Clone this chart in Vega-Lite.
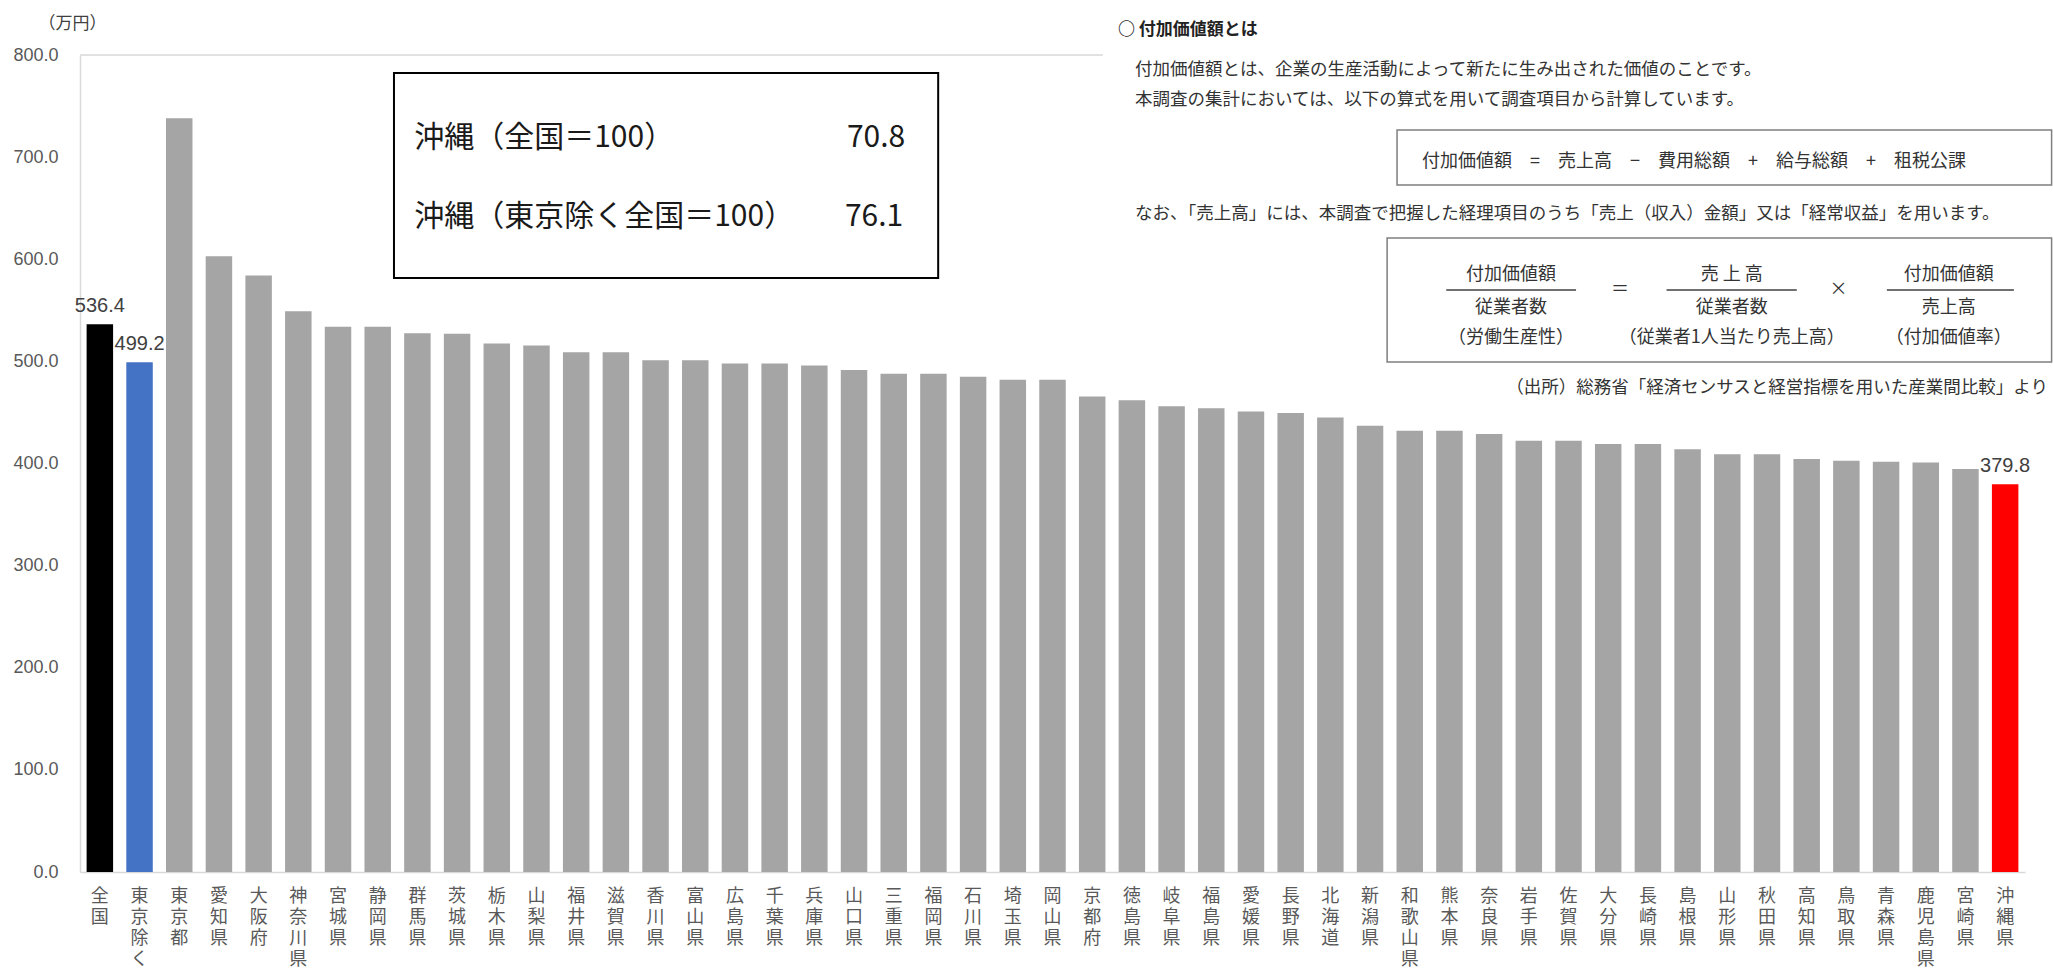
{
  "$schema": "https://vega.github.io/schema/vega-lite/v6.json",
  "width": 1945,
  "height": 817,
  "autosize": "none",
  "padding": {"left": 80, "top": 55, "right": 28, "bottom": 98},
  "background": "white",
  "config": {"view": {"stroke": null}, "font": "Noto Sans CJK JP"},
  "datasets": {
    "bars": [
      {"pref": "全国", "value": 536.4},
      {"pref": "東京除く", "value": 499.2},
      {"pref": "東京都", "value": 738},
      {"pref": "愛知県", "value": 603},
      {"pref": "大阪府", "value": 584},
      {"pref": "神奈川県", "value": 549},
      {"pref": "宮城県", "value": 534},
      {"pref": "静岡県", "value": 534},
      {"pref": "群馬県", "value": 527.5},
      {"pref": "茨城県", "value": 527},
      {"pref": "栃木県", "value": 517.5},
      {"pref": "山梨県", "value": 515.5},
      {"pref": "福井県", "value": 509},
      {"pref": "滋賀県", "value": 509},
      {"pref": "香川県", "value": 501},
      {"pref": "富山県", "value": 501},
      {"pref": "広島県", "value": 498},
      {"pref": "千葉県", "value": 498},
      {"pref": "兵庫県", "value": 496},
      {"pref": "山口県", "value": 491.5},
      {"pref": "三重県", "value": 488},
      {"pref": "福岡県", "value": 488},
      {"pref": "石川県", "value": 485},
      {"pref": "埼玉県", "value": 482},
      {"pref": "岡山県", "value": 482},
      {"pref": "京都府", "value": 465.5},
      {"pref": "徳島県", "value": 462},
      {"pref": "岐阜県", "value": 456},
      {"pref": "福島県", "value": 454},
      {"pref": "愛媛県", "value": 451},
      {"pref": "長野県", "value": 449.5},
      {"pref": "北海道", "value": 445},
      {"pref": "新潟県", "value": 437},
      {"pref": "和歌山県", "value": 432},
      {"pref": "熊本県", "value": 432},
      {"pref": "奈良県", "value": 428.8},
      {"pref": "岩手県", "value": 422.3},
      {"pref": "佐賀県", "value": 422.3},
      {"pref": "大分県", "value": 419},
      {"pref": "長崎県", "value": 419},
      {"pref": "島根県", "value": 414},
      {"pref": "山形県", "value": 409},
      {"pref": "秋田県", "value": 409},
      {"pref": "高知県", "value": 404.3},
      {"pref": "鳥取県", "value": 402.7},
      {"pref": "青森県", "value": 401.7},
      {"pref": "鹿児島県", "value": 401},
      {"pref": "宮崎県", "value": 394.5},
      {"pref": "沖縄県", "value": 379.8}
    ],
    "mainBox": [{"u": 7.91, "u2": 21.62, "v": 782.4, "v2": 581.6}],
    "noteBoxes": [
      {"u": 33.18, "u2": 49.67, "v": 726.6, "v2": 672.7},
      {"u": 32.93, "u2": 49.67, "v": 620.8, "v2": 499.4}
    ],
    "grid": [{"u": 0, "u2": 25.77, "v": 800}],
    "fracLines": [
      {"u": 34.42, "u2": 37.69, "v": 569.9},
      {"u": 39.97, "u2": 43.25, "v": 569.9},
      {"u": 45.52, "u2": 48.72, "v": 569.9}
    ],
    "boxLeft": [
      {"u": 8.42, "v": 718.7, "t": "沖縄（全国＝100）"},
      {"u": 8.42, "v": 641.4, "t": "沖縄（東京除く全国＝100）"}
    ],
    "boxRight": [
      {"u": 20.79, "v": 718.7, "t": "70.8"},
      {"u": 20.74, "v": 641.4, "t": "76.1"}
    ],
    "heading": [{"u": 26.15, "v": 824.5, "t": "○ 付加価値額とは"}],
    "body": [
      {"u": 26.58, "v": 785.4, "t": "付加価値額とは、企業の生産活動によって新たに生み出された価値のことです。"},
      {"u": 26.58, "v": 756, "t": "本調査の集計においては、以下の算式を用いて調査項目から計算しています。"},
      {"u": 26.58, "v": 644.3, "t": "なお、「売上高」には、本調査で把握した経理項目のうち「売上（収入）金額」又は「経常収益」を用います。"}
    ],
    "formula": [
      {"u": 33.81, "v": 695.2, "t": "付加価値額　=　売上高　−　費用総額　+　給与総額　+　租税公課"}
    ],
    "source": [{"u": 49.58, "v": 474, "t": "（出所）総務省「経済センサスと経営指標を用いた産業間比較」より"}],
    "frac": [
      {"u": 36.05, "v": 584.6, "t": "付加価値額"},
      {"u": 36.05, "v": 552.3, "t": "従業者数"},
      {"u": 36.05, "v": 522.9, "t": "（労働生産性）"},
      {"u": 38.8, "v": 569.9, "t": "＝"},
      {"u": 41.61, "v": 584.6, "t": "売 上 高"},
      {"u": 41.61, "v": 552.3, "t": "従業者数"},
      {"u": 41.61, "v": 522.9, "t": "（従業者1人当たり売上高）"},
      {"u": 44.3, "v": 569.9, "t": "×"},
      {"u": 47.08, "v": 584.6, "t": "付加価値額"},
      {"u": 47.08, "v": 552.3, "t": "売上高"},
      {"u": 47.08, "v": 522.9, "t": "（付加価値率）"}
    ]
  },
  "layer": [
    {
      "data": {"name": "bars"},
      "encoding": {
        "x": {
          "field": "pref", "type": "nominal", "sort": null,
          "scale": {"paddingInner": 0.333, "paddingOuter": 0.1667},
          "axis": {
            "title": null, "labelAngle": 0, "labelExpr": "split(datum.label, '')",
            "labelFontSize": 18, "labelLineHeight": 21, "labelPadding": 15,
            "labelColor": "#595959", "labelFont": "Noto Sans CJK JP", "labelBaseline": "top",
            "labelOverlap": false, "ticks": false, "domainColor": "#d9d9d9", "domainWidth": 1.5
          }
        },
        "y": {
          "field": "value", "type": "quantitative",
          "scale": {"domain": [0, 800], "nice": false},
          "axis": {
            "title": "（万円）", "titleAngle": 0, "titleAlign": "left", "titleBaseline": "middle",
            "titleX": -42, "titleY": -32, "titleFontSize": 17, "titleFontWeight": "normal",
            "titleColor": "#404040", "titleFont": "Noto Sans CJK JP",
            "values": [0, 100, 200, 300, 400, 500, 600, 700, 800], "format": ".1f",
            "labelFontSize": 18, "labelFont": "Liberation Sans", "labelColor": "#595959",
            "labelPadding": 22, "ticks": false, "grid": false,
            "domainColor": "#d9d9d9", "domainWidth": 1.5
          }
        }
      },
      "layer": [
        {
          "mark": {"type": "bar"},
          "encoding": {
            "color": {
              "condition": [
                {"test": "datum.pref === '全国'", "value": "#000000"},
                {"test": "datum.pref === '東京除く'", "value": "#4472C4"},
                {"test": "datum.pref === '沖縄県'", "value": "#FF0000"}
              ],
              "value": "#A5A5A5"
            }
          }
        },
        {
          "transform": [{"filter": "indexof(['全国', '東京除く', '沖縄県'], datum.pref) >= 0"}],
          "mark": {"type": "text", "baseline": "alphabetic", "dy": -12, "fontSize": 20, "font": "Liberation Sans", "color": "#404040"},
          "encoding": {"text": {"field": "value", "type": "quantitative", "format": ".1f"}}
        }
      ]
    },
    {
      "encoding": {
        "x": {"field": "u", "type": "quantitative", "scale": {"domain": [0, 49], "nice": false, "zero": false}, "axis": null},
        "y": {"field": "v", "type": "quantitative", "scale": {"domain": [0, 800], "nice": false}, "axis": null}
      },
      "layer": [
        {
          "data": {"name": "grid"},
          "mark": {"type": "rule", "color": "#d9d9d9", "strokeWidth": 1.5},
          "encoding": {"x2": {"field": "u2"}}
        },
        {
          "data": {"name": "mainBox"},
          "mark": {"type": "rect", "fill": "#ffffff", "stroke": "#000000", "strokeWidth": 2},
          "encoding": {"x2": {"field": "u2"}, "y2": {"field": "v2"}}
        },
        {
          "data": {"name": "noteBoxes"},
          "mark": {"type": "rect", "fill": "#ffffff", "stroke": "#7f7f7f", "strokeWidth": 1.5},
          "encoding": {"x2": {"field": "u2"}, "y2": {"field": "v2"}}
        },
        {
          "data": {"name": "fracLines"},
          "mark": {"type": "rule", "color": "#404040", "strokeWidth": 1.5},
          "encoding": {"x2": {"field": "u2"}}
        },
        {
          "data": {"name": "boxLeft"},
          "mark": {"type": "text", "align": "left", "baseline": "middle", "fontSize": 30, "color": "#1a1a1a"},
          "encoding": {"text": {"field": "t"}}
        },
        {
          "data": {"name": "boxRight"},
          "mark": {"type": "text", "align": "right", "baseline": "middle", "fontSize": 30, "color": "#1a1a1a"},
          "encoding": {"text": {"field": "t"}}
        },
        {
          "data": {"name": "heading"},
          "mark": {"type": "text", "align": "left", "baseline": "middle", "fontSize": 17, "fontWeight": "bold", "color": "#222222"},
          "encoding": {"text": {"field": "t"}}
        },
        {
          "data": {"name": "body"},
          "mark": {"type": "text", "align": "left", "baseline": "middle", "fontSize": 17.5, "color": "#333333"},
          "encoding": {"text": {"field": "t"}}
        },
        {
          "data": {"name": "formula"},
          "mark": {"type": "text", "align": "left", "baseline": "middle", "fontSize": 18, "color": "#333333"},
          "encoding": {"text": {"field": "t"}}
        },
        {
          "data": {"name": "source"},
          "mark": {"type": "text", "align": "right", "baseline": "middle", "fontSize": 17.5, "color": "#333333"},
          "encoding": {"text": {"field": "t"}}
        },
        {
          "data": {"name": "frac"},
          "mark": {"type": "text", "align": "center", "baseline": "middle", "fontSize": 18, "color": "#333333"},
          "encoding": {"text": {"field": "t"}}
        }
      ]
    }
  ],
  "resolve": {"scale": {"x": "independent", "y": "independent"}}
}
